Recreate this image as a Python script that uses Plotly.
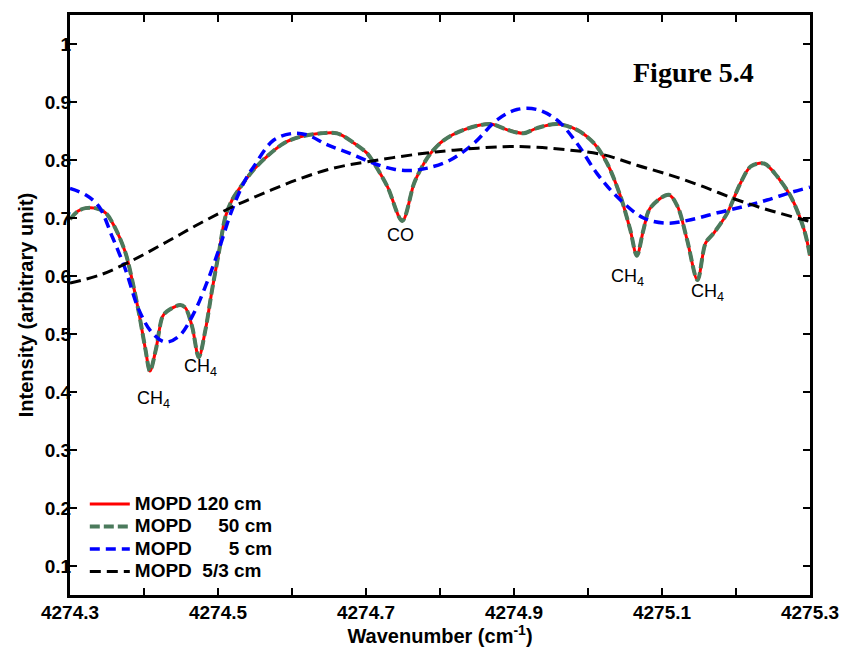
import plotly.graph_objects as go

# MOPD 120 cm / 50 cm (high resolution spectrum)
wn_hi = [4274.300, 4274.311, 4274.321, 4274.334, 4274.348, 4274.361, 4274.375, 4274.384,
         4274.393, 4274.402, 4274.408, 4274.416, 4274.425, 4274.431, 4274.449, 4274.456,
         4274.465, 4274.474, 4274.483, 4274.492, 4274.501, 4274.510, 4274.519, 4274.533,
         4274.548, 4274.566, 4274.589, 4274.611, 4274.639, 4274.661, 4274.684, 4274.702,
         4274.711, 4274.729, 4274.749, 4274.765, 4274.776, 4274.787, 4274.805, 4274.832,
         4274.868, 4274.891, 4274.913, 4274.931, 4274.958, 4274.985, 4275.008, 4275.026,
         4275.044, 4275.057, 4275.066, 4275.075, 4275.084, 4275.109, 4275.121, 4275.134,
         4275.148, 4275.159, 4275.170, 4275.188, 4275.206, 4275.220, 4275.238, 4275.256,
         4275.274, 4275.292, 4275.300]
int_120 = [0.698, 0.712, 0.717, 0.717, 0.709, 0.683, 0.640, 0.593,
           0.537, 0.473, 0.436, 0.473, 0.530, 0.539, 0.550, 0.545,
           0.513, 0.460, 0.507, 0.576, 0.639, 0.702, 0.731, 0.758,
           0.783, 0.806, 0.829, 0.840, 0.846, 0.846, 0.829, 0.811,
           0.794, 0.754, 0.695, 0.760, 0.789, 0.811, 0.834, 0.852,
           0.862, 0.852, 0.846, 0.855, 0.862, 0.852, 0.829, 0.794,
           0.737, 0.680, 0.635, 0.680, 0.717, 0.740, 0.720, 0.662,
           0.593, 0.657, 0.674, 0.708, 0.760, 0.789, 0.794, 0.771,
           0.737, 0.680, 0.635]
int_50 = list(int_120)

# MOPD 5 cm
wn_5 = [4274.300, 4274.321, 4274.339, 4274.357, 4274.375, 4274.393, 4274.411, 4274.429,
        4274.447, 4274.465, 4274.483, 4274.501, 4274.519, 4274.537, 4274.548, 4274.575,
        4274.602, 4274.621, 4274.648, 4274.679, 4274.711, 4274.738, 4274.760, 4274.783,
        4274.814, 4274.846, 4274.877, 4274.904, 4274.931, 4274.958, 4274.985, 4275.012,
        4275.039, 4275.075, 4275.107, 4275.139, 4275.175, 4275.211, 4275.242, 4275.274,
        4275.300]
int_5 = [0.751, 0.740, 0.720, 0.668, 0.611, 0.542, 0.502, 0.486,
         0.496, 0.530, 0.582, 0.645, 0.714, 0.766, 0.788, 0.834,
         0.846, 0.843, 0.826, 0.811, 0.794, 0.784, 0.782, 0.786,
         0.800, 0.829, 0.869, 0.887, 0.887, 0.869, 0.829, 0.777,
         0.737, 0.700, 0.691, 0.697, 0.709, 0.720, 0.731, 0.744,
         0.753]

# MOPD 5/3 cm
wn_53 = [4274.300, 4274.341, 4274.386, 4274.431, 4274.476, 4274.521, 4274.566, 4274.611,
         4274.656, 4274.702, 4274.769, 4274.819, 4274.886, 4274.931, 4274.976, 4275.021,
         4275.066, 4275.111, 4275.156, 4275.202, 4275.246, 4275.300]
int_53 = [0.588, 0.602, 0.628, 0.659, 0.691, 0.720, 0.745, 0.768,
          0.786, 0.797, 0.810, 0.817, 0.823, 0.822, 0.817, 0.809,
          0.791, 0.774, 0.754, 0.731, 0.713, 0.694]

series_names = ["MOPD\u00a0120 cm", "MOPD\u00a0\u2007\u200750 cm",
                "MOPD\u00a0\u2007\u2007\u20075 cm", "MOPD\u00a0\u00a05/3 cm"]

x_tickvals = [4274.3, 4274.5, 4274.7, 4274.9, 4275.1, 4275.3]
x_ticktext = ["4274.3", "4274.5", "4274.7", "4274.9", "4275.1", "4275.3"]
y_tickvals = [0.1, 0.2, 0.3, 0.4, 0.5, 0.6, 0.7, 0.8, 0.9, 1.0]
y_ticktext = ["0.1", "0.2", "0.3", "0.4", "0.5", "0.6", "0.7", "0.8", "0.9", "1"]

FAM = "Liberation Sans, Arial, sans-serif"


def legend_label(s):
    return '<span style="font-size:19px"><b>' + s + '</b></span>'


fig = go.Figure()
fig.add_trace(go.Scatter(x=wn_hi, y=int_120, mode="lines", name=legend_label(series_names[0]),
                         line=dict(color="#ff0000", width=3, shape="spline", smoothing=0.9)))
fig.add_trace(go.Scatter(x=wn_hi, y=int_50, mode="lines", name=legend_label(series_names[1]),
                         line=dict(color="#4b7a5c", width=4, dash="10px,4px", shape="spline", smoothing=0.9)))
fig.add_trace(go.Scatter(x=wn_5, y=int_5, mode="lines", name=legend_label(series_names[2]),
                         line=dict(color="#0000ff", width=3.5, dash="10px,6px", shape="spline", smoothing=1.0)))
fig.add_trace(go.Scatter(x=wn_53, y=int_53, mode="lines", name=legend_label(series_names[3]),
                         line=dict(color="#000000", width=3, dash="11px,6px", shape="spline", smoothing=1.0)))

ann_font = dict(family=FAM, size=18, color="black")
annotations = [
    dict(x=4274.747, y=0.671, text="CO"),
    dict(x=4274.413, y=0.387, text="CH<sub>4</sub>"),
    dict(x=4274.476, y=0.442, text="CH<sub>4</sub>"),
    dict(x=4275.053, y=0.597, text="CH<sub>4</sub>"),
    dict(x=4275.162, y=0.571, text="CH<sub>4</sub>"),
]
for a in annotations:
    fig.add_annotation(xref="x", yref="y", showarrow=False, font=ann_font, **a)

fig.add_annotation(xref="paper", yref="paper", x=0.842, y=0.9, xanchor="center", yanchor="middle",
                   showarrow=False, text="<b>Figure 5.4</b>",
                   font=dict(family="Liberation Serif, Times New Roman, serif", size=28, color="black"))

tick_font = dict(family=FAM, size=19, color="black", weight="bold")
title_font = dict(family=FAM, size=20, color="black", weight="bold")
fig.update_layout(
    width=843, height=647,
    margin=dict(l=70, r=33, t=15, b=52, autoexpand=False),
    paper_bgcolor="white", plot_bgcolor="white",
    font=dict(family=FAM, color="black"),
    showlegend=True,
    legend=dict(x=0.02, y=0.185, xanchor="left", yanchor="top",
                bgcolor="rgba(0,0,0,0)", borderwidth=0,
                font=dict(family=FAM, size=15, color="black"),
                itemwidth=40, tracegroupgap=0),
    xaxis=dict(range=[4274.3, 4275.3], tickvals=x_tickvals, ticktext=x_ticktext,
               automargin=False,
               ticks="inside", ticklen=7, tickwidth=2, tickcolor="black",
               minor=dict(dtick=0.1, tick0=4274.3, ticks="inside", ticklen=7, tickwidth=2,
                          tickcolor="black", showgrid=False),
               showline=True, linewidth=3, linecolor="black", mirror="ticks",
               showgrid=False, zeroline=False, tickfont=tick_font, ticklabelstandoff=-2,
               title=dict(text="Wavenumber (cm<sup>-1</sup>)", standoff=2, font=title_font)),
    yaxis=dict(range=[0.05, 1.05], tickvals=y_tickvals, ticktext=y_ticktext,
               automargin=False,
               ticks="inside", ticklen=7, tickwidth=2, tickcolor="black",
               showline=True, linewidth=3, linecolor="black", mirror="ticks",
               showgrid=False, zeroline=False, tickfont=tick_font, ticklabelstandoff=-8,
               title=dict(text="Intensity (arbitrary unit)", standoff=6, font=title_font)),
)

fig.write_html("out.html", config={"displayModeBar": False},
               post_script="document.body.style.margin='0';document.body.style.overflow='hidden';")
